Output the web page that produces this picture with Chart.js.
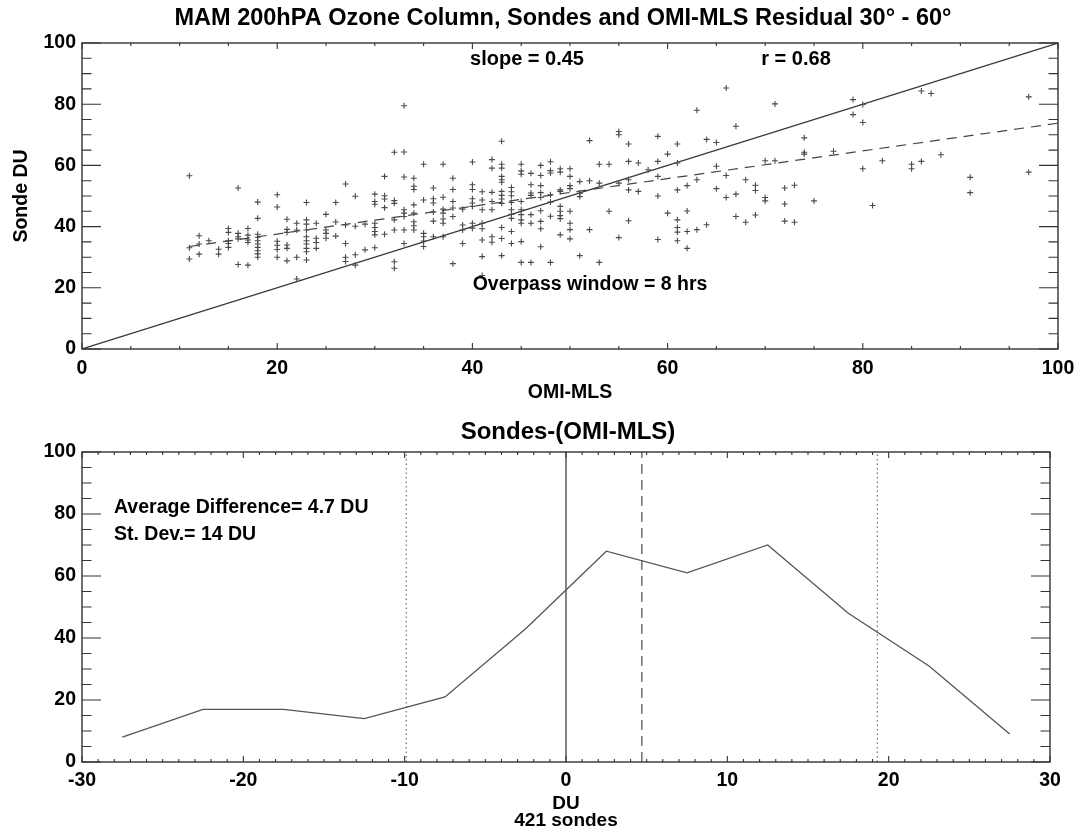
<!DOCTYPE html>
<html><head><meta charset="utf-8">
<script src="https://cdn.jsdelivr.net/npm/chart.js@4/dist/chart.umd.min.js"></script>
<style>
html,body{margin:0;padding:0;background:#fff;overflow:hidden;}
#w1{position:absolute;left:0;top:0;width:1076px;height:410px;}
#w2{position:absolute;left:0;top:410px;width:1076px;height:419px;}
</style></head><body>
<div id="w1"><canvas id="c1" width="1076" height="410"></canvas></div>
<div id="w2"><canvas id="c2" width="1076" height="419"></canvas></div>
<script>
// ---------- top panel data: OMI-MLS (x) vs Sonde (y), DU ----------
const omiMls = [
11,11,11, 12,12,12, 13, 14,14, 15,15,15,15,15, 16,16,16,16,16, 17,17,17,17,17,
18,18,18,18,18,18,18,18,18,18, 20,20,20,20,20,20, 21,21,21,21,21,21, 22,22,22,22,
23,23,23,23,23,23,23,23,23,23, 24,24,24,24, 25,25,25,25, 26,26,26, 27,27,27,27,27,
28,28,28,28, 29,29, 30,30,30,30,30,30,30,30, 31,31,31,31,31, 32,32,32,32,32,32,32,
33,33,33,33,33,33,33,33, 34,34,34,34,34,34,34,34, 35,35,35,35,35,35, 36,36,36,36,36,36,
37,37,37,37,37,37,37, 38,38,38,38,38,38, 39,39,39,39, 40,40,40,40,40,40,40,40,
41,41,41,41,41,41,41,41, 42,42,42,42,42,42,42, 43,43,43,43,43,43,43,43,43,43,43,43,43,
44,44,44,44,44,44,44,44,44, 45,45,45,45,45,45,45,45,45,45, 46,46,46,46,46,46,46,
47,47,47,47,47,47,47,47,47, 48,48,48,48,48,48,48, 49,49,49,49,49,49,49,49,49,
50,50,50,50,50,50,50,50, 51,51,51,51, 52,52,52, 53,53,53, 54,54, 55,55,55,55,
56,56,56,56,56, 57,57, 58, 59,59,59,59,59, 60,60, 61,61,61,61,61,61,61, 62,62,62,62,
63,63,63, 64,64, 65,65,65, 66,66,66, 67,67,67, 68,68, 69,69,69, 70,70,70, 71,71,
72,72,72, 73,73, 74,74,74, 75, 77, 79,79, 80,80,80, 81, 82, 85,85, 86,86, 87, 88, 91,91, 97,97
];
const sonde = [
56.6,33.1,29.4, 37,34.3,31, 35.4, 32.6,31, 39.4,38.1,35.4,34.5,33.2, 52.6,37.8,36.7,36,27.6, 39.4,37.2,35.6,34.8,27.4,
48,42.7,37.5,36.5,35.4,34.3,33.2,32.1,31.1,30, 50.4,46.4,35.2,33.9,32.5,30, 42.4,39.1,38.1,34,32.9,28.8, 41.1,38.9,30,22.9,
47.9,42.2,40.8,38.9,36.7,35.4,34.3,32.9,31.8,29.1, 41.1,36.2,34.8,32.9, 44,38.9,37.8,36.2, 47.9,41.5,36.9, 53.9,40.5,34.5,30,28.6,
49.9,40.1,30.8,27.4, 40.8,32.4, 50.6,48.2,47.3,41.1,39.7,38.4,37.3,33.1, 56.4,50.1,49,46.2,37.5, 64.3,48.5,47.6,42.2,38.9,28.5,26.4,
79.5,64.4,56.2,45.5,44.4,43.3,38.9,34.5, 55.8,53.2,52.1,47.1,44.4,41.6,40.3,38.9, 60.4,48.7,37.8,36.7,35.3,33.5, 52.6,49.1,47.7,44.8,41.8,36.7,
60.4,49.6,45.7,44.4,42.5,41.1,36.7, 55.8,52.1,48.2,46.1,43.3,27.9, 45.7,40.5,38.9,34.5, 61.1,53.7,52.1,49.1,47.7,46.6,41.1,39.5,
51.4,48.7,45.5,41.1,39.3,35.6,30.2,24, 61.9,59.1,51.2,48.2,45.5,36.7,34.9, 67.9,60.4,59.1,56.4,55.3,54.5,51.5,50.2,49,47.6,39.7,36.1,30.5,
52.8,51.4,50.1,47.9,45.5,44,42.7,38.4,34.5, 60.4,58.2,57.1,48.2,45.5,43.9,42.2,41.1,35.1,28.3, 57.4,53.7,51,50.2,43.9,41.1,28.3,
60,56.7,53.4,51.1,49.5,45.2,41.7,39.3,33.4, 61.2,58.3,57.5,50.4,48,43.4,28.3, 58.9,57.8,52,51.5,46.6,45,43.6,42.6,37.3,
58.9,56.4,53.4,52.4,45,41.1,39,36, 54.7,50.9,49.8,30.5, 68.1,55,39, 60.4,54.2,28.3, 60.4,45, 71.1,70,54.2,36.4,
67,61.3,55.3,52,41.9, 60.8,51.5, 58.6, 69.5,61.3,56.4,50,35.8, 63.7,44.4, 67,60.8,52,42.2,39.7,38.2,35.4, 53.4,45.1,38.4,32.9,
78,55.3,39, 68.5,40.6, 67.5,59.7,52.4, 85.3,56.7,49.5, 72.8,50.6,43.3, 55.3,41.4, 53.5,51.8,43.8, 61.5,49.5,48.4, 80.1,61.5,
52.6,47.4,41.8, 53.5,41.4, 69,64.3,63.7, 48.4, 64.6, 81.5,76.6, 79.9,74,58.9, 46.9, 61.5, 60.4,58.9, 84.3,61.3, 83.5, 63.5, 56.1,51.1, 82.4,57.8
];
const oneToOneX = [0, 100];
const oneToOneY = [0, 100];
const fitX = [11, 100];
const fitY = [33.5, 73.8];
const topXTicks = [0, 20, 40, 60, 80, 100];
const topYTicks = [0, 20, 40, 60, 80, 100];

// ---------- bottom panel data: histogram of Sondes-(OMI-MLS) ----------
const diffBins = [-27.5, -22.5, -17.5, -12.5, -7.5, -2.5, 2.5, 7.5, 12.5, 17.5, 22.5, 27.5];
const diffCounts = [8, 17, 17, 14, 21, 43, 68, 61, 70, 48, 31, 9];
const zeroLine = 0;
const meanDiff = 4.7;
const sdLow = -9.9;
const sdHigh = 19.3;
const botXTicks = [-30, -20, -10, 0, 10, 20, 30];
const botYTicks = [0, 20, 40, 60, 80, 100];

const FONT = "'Liberation Sans', Arial, Helvetica, sans-serif";
const AXIS = '#333';
const MARK = '#4a4a4a';
const TICKFONT = {family: FONT, size: 19.5, weight: 'bold'};

function idlFramePlugin(id, xMinor, xMajor, xLen, yMinor, yMajor, yLen) {
  return {
    id: id,
    afterDatasetsDraw(chart) {
      const {ctx, chartArea: {left, right, top, bottom}, scales: {x, y}} = chart;
      ctx.save();
      ctx.strokeStyle = AXIS;
      ctx.lineWidth = 1.4;
      ctx.strokeRect(left, top, right - left, bottom - top);
      ctx.lineWidth = 1.1;
      ctx.beginPath();
      const nx = Math.round((x.max - x.min) / xMinor);
      for (let i = 0; i <= nx; i++) {
        const v = x.min + i * xMinor;
        const px = x.getPixelForValue(v);
        const major = Math.abs(v / xMajor - Math.round(v / xMajor)) < 1e-6;
        const L = major ? xLen : xLen / 2;
        ctx.moveTo(px, bottom); ctx.lineTo(px, bottom - L);
        ctx.moveTo(px, top); ctx.lineTo(px, top + L);
      }
      const ny = Math.round((y.max - y.min) / yMinor);
      for (let i = 0; i <= ny; i++) {
        const v = y.min + i * yMinor;
        const py = y.getPixelForValue(v);
        const major = Math.abs(v / yMajor - Math.round(v / yMajor)) < 1e-6;
        const L = major ? yLen : yLen / 2;
        ctx.moveTo(left, py); ctx.lineTo(left + L, py);
        ctx.moveTo(right, py); ctx.lineTo(right - L, py);
      }
      ctx.stroke();
      ctx.restore();
    }
  };
}

function textPlugin(id, items) {
  return {
    id: id,
    afterDraw(chart) {
      const ctx = chart.ctx;
      ctx.save();
      ctx.fillStyle = '#000';
      ctx.textBaseline = 'middle';
      items.forEach(t => {
        ctx.font = 'bold ' + t.size + 'px ' + FONT;
        ctx.textAlign = t.align || 'center';
        ctx.fillText(t.text, t.x, t.y);
      });
      ctx.restore();
    }
  };
}

function fixedAxis(size, horizontal) {
  return function (scale) {
    if (horizontal) {
      scale.height = size;
      scale.paddingLeft = 0;
      scale.paddingRight = 0;
    } else {
      scale.width = size;
      scale.paddingTop = 0;
      scale.paddingBottom = 0;
    }
  };
}

// ---------- top chart ----------
new Chart(document.getElementById('c1'), {
  type: 'scatter',
  data: {
    datasets: [
      {
        label: 'sondes',
        data: omiMls.map((v, i) => ({x: v, y: sonde[i]})),
        pointStyle: 'cross', pointRadius: 3, borderColor: MARK, borderWidth: 1.1,
        backgroundColor: MARK
      },
      {
        label: '1:1',
        data: oneToOneX.map((v, i) => ({x: v, y: oneToOneY[i]})),
        showLine: true, pointRadius: 0, borderColor: '#3a3a3a', borderWidth: 1.2
      },
      {
        label: 'fit',
        data: fitX.map((v, i) => ({x: v, y: fitY[i]})),
        showLine: true, pointRadius: 0, borderColor: '#444', borderWidth: 1.2,
        borderDash: [10, 7]
      }
    ]
  },
  options: {
    responsive: false, animation: false, devicePixelRatio: 1,
    layout: {autoPadding: false, padding: {left: 0, right: 18, top: 43, bottom: 0}},
    plugins: {legend: {display: false}, tooltip: {enabled: false}, title: {display: false}},
    scales: {
      x: {
        type: 'linear', min: 0, max: 100,
        afterFit: fixedAxis(61, true),
        afterBuildTicks: (s) => { s.ticks = topXTicks.map(v => ({value: v})); },
        grid: {display: false, drawTicks: false}, border: {display: false},
        ticks: {color: '#000', padding: 8, maxRotation: 0, font: TICKFONT},
        title: {display: true, text: 'OMI-MLS', color: '#000', padding: {top: 0, bottom: 6},
                font: TICKFONT}
      },
      y: {
        type: 'linear', min: 0, max: 100,
        afterFit: fixedAxis(82, false),
        afterBuildTicks: (s) => { s.ticks = topYTicks.map(v => ({value: v})); },
        grid: {display: false, drawTicks: false}, border: {display: false},
        ticks: {color: '#000', padding: 6, font: TICKFONT},
        title: {display: true, text: 'Sonde DU', color: '#000', padding: {top: 10, bottom: 0},
                font: TICKFONT}
      }
    }
  },
  plugins: [
    idlFramePlugin('frame1', 5, 20, 6, 5, 20, 19),
    textPlugin('text1', [
      {text: 'MAM 200hPA Ozone Column, Sondes and OMI-MLS Residual 30° - 60°', x: 563, y: 19, size: 23.5},
      {text: 'slope = 0.45', x: 527, y: 59, size: 20},
      {text: 'r = 0.68', x: 796, y: 59, size: 20},
      {text: 'Overpass window = 8 hrs', x: 590, y: 285, size: 19.5}
    ])
  ]
});

// ---------- bottom chart ----------
function vline(v) { return [{x: v, y: 0}, {x: v, y: 100}]; }
new Chart(document.getElementById('c2'), {
  type: 'scatter',
  data: {
    datasets: [
      {
        label: 'counts',
        data: diffBins.map((v, i) => ({x: v, y: diffCounts[i]})),
        showLine: true, pointRadius: 0, borderColor: '#555', borderWidth: 1.3
      },
      {label: 'zero', data: vline(zeroLine), showLine: true, pointRadius: 0, borderColor: '#333', borderWidth: 1.2},
      {label: 'mean', data: vline(meanDiff), showLine: true, pointRadius: 0, borderColor: '#666', borderWidth: 1.4, borderDash: [10, 6]},
      {label: 'sd-', data: vline(sdLow), showLine: true, pointRadius: 0, borderColor: '#777', borderWidth: 1.3, borderDash: [1.5, 3]},
      {label: 'sd+', data: vline(sdHigh), showLine: true, pointRadius: 0, borderColor: '#777', borderWidth: 1.3, borderDash: [1.5, 3]}
    ]
  },
  options: {
    responsive: false, animation: false, devicePixelRatio: 1,
    layout: {autoPadding: false, padding: {left: 0, right: 26, top: 42, bottom: 0}},
    plugins: {legend: {display: false}, tooltip: {enabled: false}, title: {display: false}},
    scales: {
      x: {
        type: 'linear', min: -30, max: 30,
        afterFit: fixedAxis(67, true),
        afterBuildTicks: (s) => { s.ticks = botXTicks.map(v => ({value: v})); },
        grid: {display: false, drawTicks: false}, border: {display: false},
        ticks: {color: '#000', padding: 7, maxRotation: 0, font: TICKFONT},
        title: {display: true, text: ['DU', '421 sondes'], color: '#000', padding: {top: 0, bottom: 0},
                font: {family: FONT, size: 19, weight: 'bold', lineHeight: '17px'}}
      },
      y: {
        type: 'linear', min: 0, max: 100,
        afterFit: fixedAxis(82, false),
        afterBuildTicks: (s) => { s.ticks = botYTicks.map(v => ({value: v})); },
        grid: {display: false, drawTicks: false}, border: {display: false},
        ticks: {color: '#000', padding: 6, font: TICKFONT}
      }
    }
  },
  plugins: [
    idlFramePlugin('frame2', 1, 10, 6, 5, 20, 19),
    textPlugin('text2', [
      {text: 'Sondes-(OMI-MLS)', x: 568, y: 22, size: 24},
      {text: 'Average Difference= 4.7 DU', x: 114, y: 98, size: 19.5, align: 'left'},
      {text: 'St. Dev.= 14 DU', x: 114, y: 125, size: 19.5, align: 'left'}
    ])
  ]
});
</script>
</body></html>
